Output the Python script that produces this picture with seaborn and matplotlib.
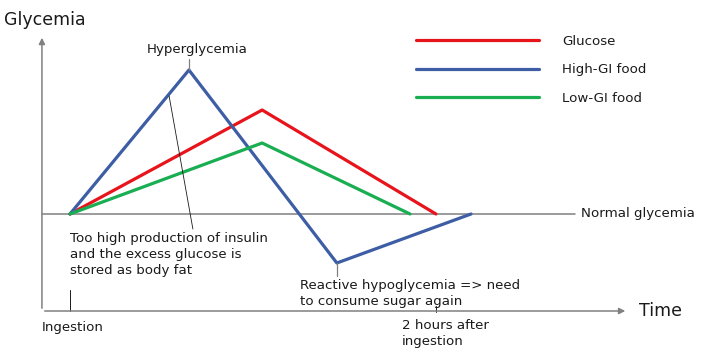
#!/usr/bin/env python3
"""Schematic glycemic response after ingestion: glucose, high-GI and low-GI food."""
import pandas as pd
import matplotlib.pyplot as plt
import seaborn as sns

# time in minutes after ingestion, glycemia in mg/dL (schematic)
glucose_time = [0, 63, 120]
glucose_glyc = [90, 142, 90]
high_gi_time = [0, 39, 87.5, 131.5]
high_gi_glyc = [90, 162, 65.5, 90]
low_gi_time = [0, 63, 111.5]
low_gi_glyc = [90, 125.5, 90]
series_names = ['Glucose', 'High-GI food', 'Low-GI food']
normal_glycemia = 90
two_hours = 120

colors = {'Glucose': '#e8141b', 'High-GI food': '#3d5ea5', 'Low-GI food': '#19ae52'}
GRAY = '#808080'
TXT = '#1a1a1a'

df = pd.concat([
    pd.DataFrame({'time': glucose_time, 'glyc': glucose_glyc, 'food': series_names[0]}),
    pd.DataFrame({'time': high_gi_time, 'glyc': high_gi_glyc, 'food': series_names[1]}),
    pd.DataFrame({'time': low_gi_time, 'glyc': low_gi_glyc, 'food': series_names[2]}),
], ignore_index=True)

sns.set_style('white')
plt.rcParams['font.family'] = ['DejaVu Sans']

fig = plt.figure(figsize=(7.15, 3.61), dpi=100)
ax = fig.add_axes([0, 0, 1, 1])
ax.axis('off')

x_axis_t = -9.2
y_axis_g = 41.5

# axes with arrows
ax.annotate('', xy=(x_axis_t, 179.5), xytext=(x_axis_t, y_axis_g),
            arrowprops=dict(arrowstyle='-|>', color=GRAY, lw=1.1, mutation_scale=9))
ax.annotate('', xy=(183, y_axis_g), xytext=(x_axis_t, y_axis_g),
            arrowprops=dict(arrowstyle='-|>', color=GRAY, lw=1.1, mutation_scale=9))
ax.plot([x_axis_t, 165.6], [normal_glycemia, normal_glycemia], color=GRAY, lw=1.1)

# ticks
ax.plot([0, 0], [y_axis_g, 52], color=TXT, lw=0.7)
ax.plot([two_hours, two_hours], [y_axis_g - 0.5, 44], color=TXT, lw=0.7)

sns.lineplot(data=df, x='time', y='glyc', hue='food', hue_order=series_names,
             palette=colors, sort=False, estimator=None, lw=2.3, ax=ax)
ax.set_xlim(-22.95, 211.5)
ax.set_ylim(16.5, 197)

# leader lines
ax.plot([39, 39], [167.5, 162], color=GRAY, lw=0.9)
ax.plot([32.5, 40.3], [149, 82.5], color=TXT, lw=0.6)
ax.plot([87.5, 87.5], [65.5, 59], color=GRAY, lw=0.9)

fs = 9.6
ax.text(x_axis_t - 12.6, 187, 'Glycemia', fontsize=12.5, color=TXT, va='center', ha='left')
ax.text(186.5, y_axis_g, 'Time', fontsize=12.5, color=TXT, va='center', ha='left')
ax.text(167.5, normal_glycemia, 'Normal glycemia', fontsize=fs, color=TXT, va='center')
ax.text(41.6, 172.5, 'Hyperglycemia', fontsize=fs, color=TXT, ha='center', va='center')
ax.text(0, 81, 'Too high production of insulin\nand the excess glucose is\nstored as body fat',
        fontsize=fs, color=TXT, va='top', linespacing=1.3)
ax.text(75.4, 57.5, 'Reactive hypoglycemia => need\nto consume sugar again',
        fontsize=fs, color=TXT, va='top', linespacing=1.3)
ax.text(x_axis_t, 33, 'Ingestion', fontsize=fs, color=TXT, va='center')
ax.text(108.9, 37.5, '2 hours after\ningestion', fontsize=fs, color=TXT, va='top', linespacing=1.3)

leg = ax.legend(loc='upper left', bbox_to_anchor=(416 / 715, 1 - 35 / 361), frameon=False,
                fontsize=fs, handlelength=9.2, handletextpad=1.75, labelspacing=1.15,
                borderpad=0, borderaxespad=0)
for t in leg.get_texts():
    t.set_color(TXT)

fig.savefig('out.png', dpi=100)
